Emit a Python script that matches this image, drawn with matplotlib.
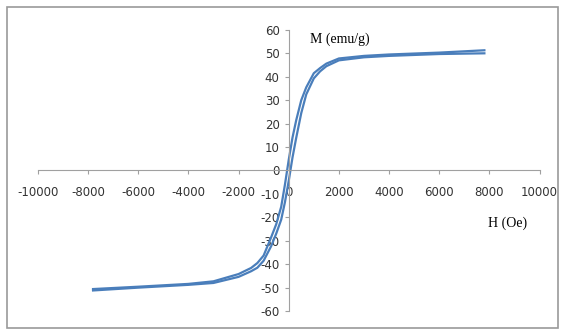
import matplotlib.pyplot as plt
from matplotlib.patches import Rectangle

# hysteresis loop
h_field = [-7800, -6000, -4000, -3000, -2000, -1500, -1250, -1000, -700, -500,
           -300, -150, 0, 150, 300, 500, 700, 1000, 1250, 1500, 2000, 3000,
           4000, 6000, 7800]
# branch coming up from negative saturation
m_up = [-51.2, -50.0, -48.8, -48.0, -45.4, -43.0, -41.5, -38.5, -32.3, -27.0,
        -21.0, -13.5, -4.5, 5.5, 14.0, 24.5, 32.5, 39.3, 42.3, 44.5, 47.0, 48.3,
        48.9, 49.7, 50.0]
# branch going down from positive saturation
m_down = [-50.6, -49.6, -48.4, -47.3, -44.2, -41.6, -39.5, -36.3, -28.5, -23.0,
          -15.5, -6.0, 4.5, 14.0, 21.5, 30.0, 35.5, 41.5, 43.7, 45.6, 47.8, 48.9,
          49.5, 50.3, 51.3]

x_ticks = list(range(-10000, 10001, 2000))
y_ticks = list(range(-60, 61, 10))

plt.rcParams['font.family'] = ['Liberation Sans Narrow', 'DejaVu Sans Condensed', 'DejaVu Sans']
plt.rcParams['axes.unicode_minus'] = False

fig = plt.figure(figsize=(5.65, 3.32), dpi=100)
fig.patches.append(Rectangle((0.013, 0.012), 0.975, 0.968, transform=fig.transFigure,
                             fill=False, edgecolor='#9a9a9a', linewidth=1.2))
ax = fig.add_axes([0.067, 0.063, 0.888, 0.847])

ax.plot(h_field, m_up, color='#4a7ebb', linewidth=1.6)
ax.plot(h_field, m_down, color='#4a7ebb', linewidth=1.6)

ax.set_xlim(-10000, 10000)
ax.set_ylim(-60, 60)
ax.set_xticks(x_ticks)
ax.set_yticks(y_ticks)

ax.spines['left'].set_position(('data', 0))
ax.spines['bottom'].set_position(('data', 0))
ax.spines['top'].set_visible(False)
ax.spines['right'].set_visible(False)
ax.spines['left'].set_color('#a0a0a0')
ax.spines['bottom'].set_color('#a0a0a0')
ax.tick_params(axis='both', labelsize=8.5, colors='#a0a0a0', labelcolor='#333333',
               length=3, width=0.8)
ax.tick_params(axis='x', pad=8)

ax.text(850, 56, 'M (emu/g)', family='Liberation Serif', fontsize=10, va='center')
ax.text(7950, -22.5, 'H (Oe)', family='Liberation Serif', fontsize=10, va='center')

fig.savefig('out.png', dpi=100)
